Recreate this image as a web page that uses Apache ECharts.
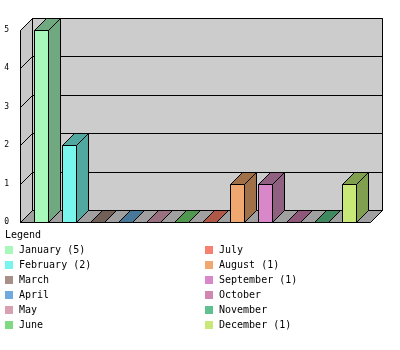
<!DOCTYPE html>
<html>
<head>
<meta charset="utf-8">
<script src="https://cdn.jsdelivr.net/npm/echarts@6/dist/echarts.min.js"></script>
<style>
  html, body { margin: 0; padding: 0; background: #fff; }
  #chart { width: 400px; height: 350px; }
</style>
</head>
<body>
<div id="chart"></div>
<script>
// Monthly counts
const months = ['January', 'February', 'March', 'April', 'May', 'June',
                'July', 'August', 'September', 'October', 'November', 'December'];
const counts = [5, 2, 0, 0, 0, 0, 0, 1, 1, 0, 0, 1];
const yTicks = [0, 1, 2, 3, 4, 5];

// Front-face colours and the darker shade used for the top and side faces
const faceColors = ['#a8f8bc', '#78f5ec', '#a89088', '#70a8e0', '#d8a0b0', '#80d880',
                    '#f88070', '#f0a870', '#d888c8', '#d088b0', '#60c090', '#c8e878'];
const shadeColors = ['#70a880', '#50a8a0', '#706058', '#487898', '#987080', '#509850',
                     '#b05848', '#a07048', '#906080', '#905878', '#408860', '#80a050'];

const DEPTH = 12;
const MONO = '"DejaVu Sans Mono", "Liberation Mono", monospace';
const edge = { stroke: '#000', lineWidth: 1 };

function px(v) { return Math.round(v) + 0.5; }

// Back wall, left wall, floor and grid lines of the box
function renderBox(params, api) {
  const n = months.length;
  const band = api.size([1, 0])[0];
  const d = DEPTH;
  const left = px(api.coord([0, 0])[0] - band * 0.75);
  const right = px(api.coord([n - 1, 0])[0] + band * 0.75);
  const yTop = px(api.coord([0, yTicks[yTicks.length - 1]])[1]);
  const yBot = px(api.coord([0, 0])[1]);
  const children = [
    { type: 'polygon', shape: { points: [[left + d, yTop - d], [right + d, yTop - d], [right + d, yBot - d], [left + d, yBot - d]] },
      style: Object.assign({ fill: '#cccccc' }, edge) },
    { type: 'polygon', shape: { points: [[left, yTop], [left + d, yTop - d], [left + d, yBot - d], [left, yBot]] },
      style: Object.assign({ fill: '#c8c8c8' }, edge) },
    { type: 'polygon', shape: { points: [[left, yBot], [left + d, yBot - d], [right + d, yBot - d], [right, yBot]] },
      style: Object.assign({ fill: '#a0a0a0' }, edge) }
  ];
  yTicks.forEach(function (t) {
    const y = px(api.coord([0, t])[1]);
    children.push({ type: 'line', shape: { x1: left + d, y1: y - d, x2: right + d, y2: y - d }, style: edge });
    children.push({ type: 'line', shape: { x1: left, y1: y, x2: left + d, y2: y - d }, style: edge });
  });
  return { type: 'group', children: children };
}

// One 3D bar: front face, right side and top
function renderBar(params, api) {
  const idx = api.value(0);
  const v = api.value(1);
  const band = api.size([1, 0])[0];
  const w = band / 2;
  const d = DEPTH;
  const base = api.coord([idx, 0]);
  const top = api.coord([idx, v]);
  const x0 = px(base[0] - w / 2);
  const x1 = x0 + w;
  const yb = px(base[1]);
  const yt = px(top[1]);
  const face = api.visual('color');
  const shade = shadeColors[idx];
  return {
    type: 'group',
    children: [
      { type: 'polygon', shape: { points: [[x0, yt], [x1, yt], [x1, yb], [x0, yb]] },
        style: Object.assign({ fill: face }, edge) },
      { type: 'polygon', shape: { points: [[x1, yt], [x1 + d, yt - d], [x1 + d, yb - d], [x1, yb]] },
        style: Object.assign({ fill: shade }, edge) },
      { type: 'polygon', shape: { points: [[x0, yt], [x0 + d, yt - d], [x1 + d, yt - d], [x1, yt]] },
        style: Object.assign({ fill: shade }, edge) }
    ]
  };
}

const legendNames = months.map(function (m, i) {
  return counts[i] > 0 ? m + ' (' + counts[i] + ')' : m;
});

const series = [{
  type: 'custom',
  name: 'box',
  renderItem: renderBox,
  data: [[0, 0]],
  clip: false,
  silent: true
}];
months.forEach(function (m, i) {
  series.push({
    type: 'custom',
    name: legendNames[i],
    renderItem: renderBar,
    itemStyle: { color: faceColors[i] },
    data: [[i, counts[i]]],
    clip: false,
    silent: true
  });
});

const legendBase = {
  orient: 'vertical',
  top: 245,
  padding: 0,
  itemGap: 5,
  itemWidth: 8,
  itemHeight: 8,
  icon: 'rect',
  selectedMode: false,
  textStyle: { fontFamily: MONO, fontSize: 10, lineHeight: 10, color: '#000', padding: [0, 0, 0, 1] }
};

const chart = echarts.init(document.getElementById('chart'), null, { renderer: 'canvas' });
chart.setOption({
  animation: false,
  backgroundColor: '#fff',
  title: {
    text: 'Legend',
    left: 5,
    top: 230,
    padding: 0,
    textStyle: { fontFamily: MONO, fontSize: 10, fontWeight: 'normal', color: '#000' }
  },
  legend: [
    Object.assign({ left: 5, data: legendNames.slice(0, 6) }, legendBase),
    Object.assign({ left: 205, data: legendNames.slice(6) }, legendBase)
  ],
  grid: { left: 27, right: 37, top: 30, bottom: 128 },
  xAxis: {
    type: 'category',
    data: months,
    show: false
  },
  yAxis: {
    type: 'value',
    min: 0,
    max: yTicks[yTicks.length - 1],
    interval: 1,
    axisLine: { show: false },
    axisTick: { show: false },
    splitLine: { show: false },
    axisLabel: { margin: 18, fontFamily: MONO, fontSize: 8, color: '#000', padding: [0, 0, 3, 0] }
  },
  series: series
});
</script>
</body>
</html>
